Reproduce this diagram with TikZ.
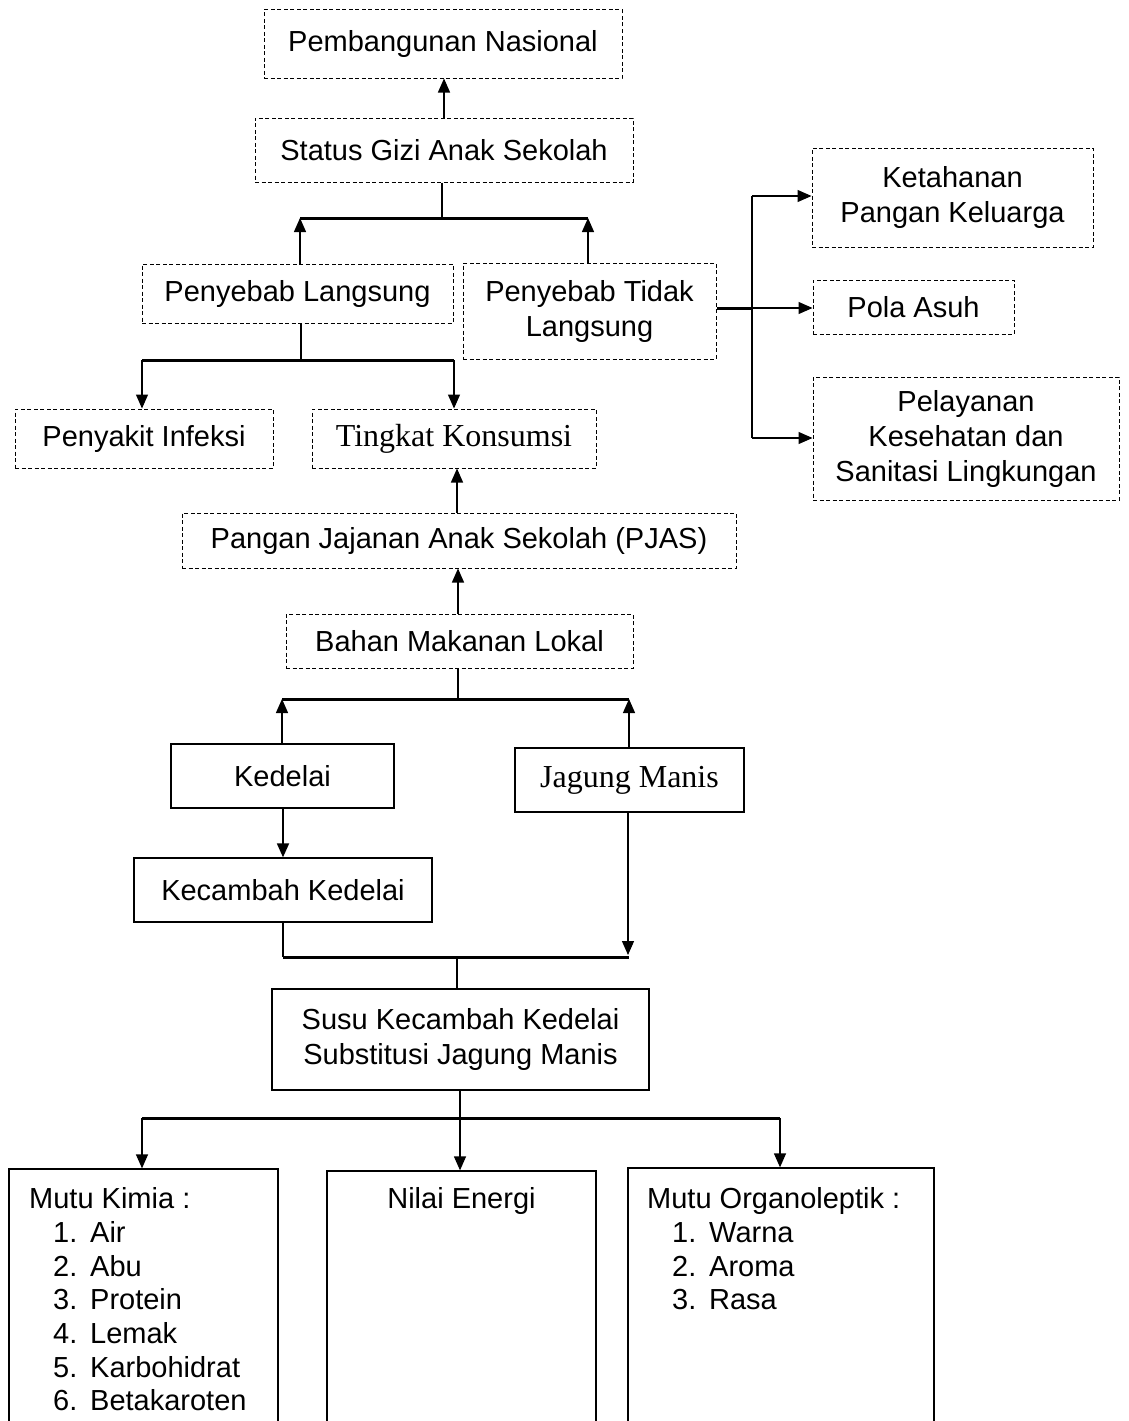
\documentclass[tikz,border=0pt]{standalone}
\usepackage{fontspec}
\setmainfont{Liberation Sans}
\newfontfamily\timesf{Liberation Serif}
\usetikzlibrary{arrows.meta}
\begin{document}
\begin{tikzpicture}[x=1pt,y=-1pt,
  txt/.style={font=\fontsize{29}{35}\selectfont},
  dbox/.style={txt, draw, dash pattern=on 4pt off 2.5pt, line width=1pt, inner sep=0pt, align=center},
  sbox/.style={txt, draw, line width=1.3pt, inner sep=0pt, align=center},
  conn/.style={line width=1.3pt},
  arr/.style={conn, -{Triangle[length=14pt,width=12pt]}},
  bar/.style={line width=3pt},
  tnr/.style={font=\timesf\fontsize{32}{38}\selectfont},
  listtxt/.style={font=\fontsize{29}{33.7}\selectfont, align=left, inner sep=0pt, anchor=north west}
]
\useasboundingbox[fill=white] (0,0) rectangle (1129,1421);

% dashed boxes
\node[dbox, minimum width=358pt, minimum height=68pt] (pn) at (443,44) {Pembangunan Nasional};
\node[dbox, minimum width=378pt, minimum height=64pt] (sg) at (444,150) {Status Gizi Anak Sekolah};
\node[dbox, minimum width=311pt, minimum height=59pt] (pl) at (297.5,293.5) {Penyebab Langsung};
\node[dbox, minimum width=253pt, minimum height=96pt] (ptl) at (589.5,311) {Penyebab Tidak\\Langsung};
\node[dbox, minimum width=258pt, minimum height=59pt] (pi) at (144,438.5) {Penyakit Infeksi};
\node[dbox, tnr, minimum width=284pt, minimum height=59pt] (tk) at (454,438.5) {Tingkat Konsumsi};
\node[dbox, minimum width=281pt, minimum height=99pt] (kp) at (952.5,197.5) {Ketahanan\\Pangan Keluarga};
\node[dbox, minimum width=201pt, minimum height=54pt] (pa) at (913.5,307) {Pola Asuh};
\node[dbox, minimum width=306pt, minimum height=123pt] (ps) at (966,438.5) {Pelayanan\\Kesehatan dan\\Sanitasi Lingkungan};
\node[dbox, minimum width=554pt, minimum height=55pt] (pj) at (459,540.5) {Pangan Jajanan Anak Sekolah (PJAS)};
\node[dbox, minimum width=347pt, minimum height=54pt] (bm) at (459.5,641) {Bahan Makanan Lokal};

% solid boxes
\node[sbox, minimum width=223pt, minimum height=64pt] (kd) at (282.5,776) {Kedelai};
\node[sbox, tnr, minimum width=229pt, minimum height=64pt] (jm) at (629.5,780) {Jagung Manis};
\node[sbox, minimum width=298pt, minimum height=64pt] (kc) at (283,890) {Kecambah Kedelai};
\node[sbox, minimum width=377pt, minimum height=101pt] (sk) at (460.5,1039.5) {Susu Kecambah Kedelai\\Substitusi Jagung Manis};
\node[sbox, minimum width=269pt, minimum height=291pt] (mk) at (143.5,1314.5) {};
\node[sbox, minimum width=269pt, minimum height=291pt] (ne) at (461.5,1316.5) {};
\node[sbox, minimum width=306pt, minimum height=291pt] (mo) at (781,1313.5) {};

% texts of bottom boxes
\node[listtxt] (mkt) at (29,1187.5) {Mutu Kimia :\\
\hspace*{24pt}\makebox[37pt][l]{1.}Air\\
\hspace*{24pt}\makebox[37pt][l]{2.}Abu\\
\hspace*{24pt}\makebox[37pt][l]{3.}Protein\\
\hspace*{24pt}\makebox[37pt][l]{4.}Lemak\\
\hspace*{24pt}\makebox[37pt][l]{5.}Karbohidrat\\
\hspace*{24pt}\makebox[37pt][l]{6.}Betakaroten};
\node[txt, inner sep=0pt, anchor=base] (net) at (461.5,1208.4) {Nilai Energi};
\node[listtxt] (mot) at (647,1187.5) {Mutu Organoleptik :\\
\hspace*{25pt}\makebox[37pt][l]{1.}Warna\\
\hspace*{25pt}\makebox[37pt][l]{2.}Aroma\\
\hspace*{25pt}\makebox[37pt][l]{3.}Rasa};

% bar coordinates
\coordinate (b1l) at (300,218);  \coordinate (b1r) at (588,218);
\coordinate (b2l) at (142,360);  \coordinate (b2r) at (454,360);
\coordinate (v3) at (752,308);
\coordinate (v3t) at (752,196); \coordinate (v3b) at (752,438);
\coordinate (b4l) at (282,699);  \coordinate (b4r) at (629,699);
\coordinate (b5l) at (283,957);  \coordinate (b5r) at (629,957);
\coordinate (b6l) at (142,1118); \coordinate (b6r) at (780,1118);

% connectors
\draw[arr] (sg.north -| 444,0) -- (pn.south -| 444,0);
\draw[conn] (sg.south -| 442,0) -- (442,218);
\draw[bar] (b1l) -- (b1r);
\draw[arr] (pl.north -| b1l) -- (b1l);
\draw[arr] (ptl.north -| b1r) -- (b1r);

\draw[conn] (pl.south -| 301,0) -- (301,360);
\draw[bar] (b2l) -- (b2r);
\draw[arr] (b2l) -- (pi.north -| b2l);
\draw[arr] (b2r) -- (tk.north -| b2r);

\draw[bar] (ptl.east |- v3) -- (v3);
\draw[conn] (v3t) -- (v3b);
\draw[arr] (v3t) -- (kp.west |- v3t);
\draw[arr] (v3) -- (pa.west |- v3);
\draw[arr] (v3b) -- (ps.west |- v3b);

\draw[arr] (pj.north -| 457,0) -- (tk.south -| 457,0);
\draw[arr] (bm.north -| 458,0) -- (pj.south -| 458,0);

\draw[conn] (bm.south -| 458,0) -- (458,699);
\draw[bar] (b4l) -- (b4r);
\draw[arr] (kd.north -| b4l) -- (b4l);
\draw[arr] (jm.north -| b4r) -- (b4r);

\draw[arr, line width=1.8pt] (kd.south -| 283,0) -- (kc.north -| 283,0);
\draw[line width=2pt] (kc.south -| b5l) -- (b5l);
\draw[bar] (b5l) -- (b5r);
\draw[arr] (jm.south -| 628,0) -- (628,955);
\draw[conn] (457,957) -- (sk.north -| 457,0);

\draw[conn] (sk.south -| 460,0) -- (460,1118);
\draw[bar] (b6l) -- (b6r);
\draw[arr] (b6l) -- (mk.north -| b6l);
\draw[arr] (460,1118) -- (ne.north -| 460,0);
\draw[arr] (b6r) -- (mo.north -| b6r);
\end{tikzpicture}
\end{document}
